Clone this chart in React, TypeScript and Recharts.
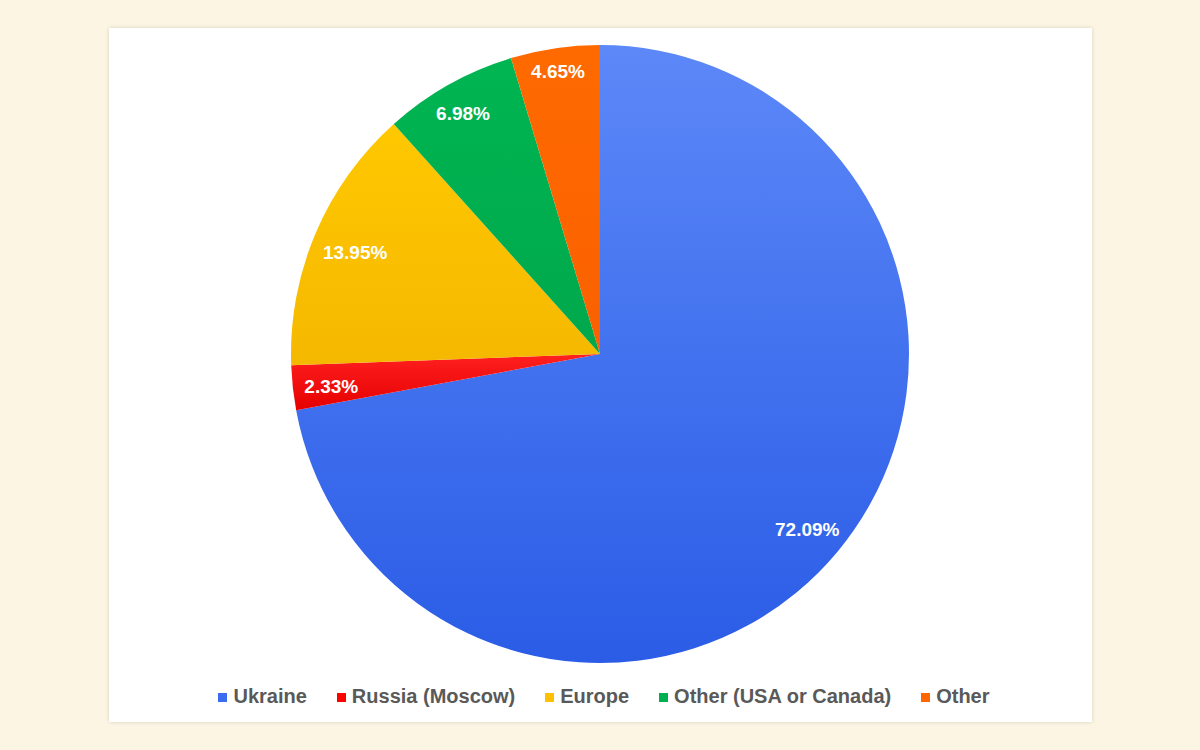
import { PieChart, Pie, Cell, Legend } from "recharts";

// Where respondents are based — share of answers, in percent.
const REGIONS = ["Ukraine", "Russia (Moscow)", "Europe", "Other (USA or Canada)", "Other"];
const SHARES = [72.09, 2.33, 13.95, 6.98, 4.65];
const COLORS = ["#3b6cf0", "#ff0000", "#ffc000", "#00b050", "#ff6600"];
// top / bottom stops of the soft vertical gradient on each slice
const TOP = ["#5c88f8", "#ff2020", "#ffc800", "#00b552", "#ff6a00"];
const BOTTOM = ["#2a5ce6", "#e60000", "#f5b800", "#00a84c", "#fa6000"];

const data = REGIONS.map((name, i) => ({ name, value: SHARES[i] }));

const W = 983;
const H = 694;
const CX = 491;
const CY = 326;
const R = 309;
const RAD = Math.PI / 180;

// "inside end" labels: push the text box out until its far corner sits just inside the rim
function renderLabel(props: any) {
  const { midAngle, value } = props;
  const text = `${value.toFixed(2)}%`;
  const w = text.length * 10.5;
  const dx = Math.cos(-midAngle * RAD);
  const dy = Math.sin(-midAngle * RAD);
  const r = R - 12 - (w / 2) * Math.abs(dx) - 5 * Math.abs(dy);
  return (
    <text
      x={CX + r * dx}
      y={CY + r * dy + 3}
      fill="#ffffff"
      fontSize={19}
      fontWeight="bold"
      textAnchor="middle"
      dominantBaseline="central"
    >
      {text}
    </text>
  );
}

// legend in series order (recharts would sort it by name)
function LegendRow() {
  return (
    <div style={{ display: "flex", justifyContent: "center", gap: 30, alignItems: "center", paddingLeft: 7 }}>
      {REGIONS.map((name, i) => (
        <div key={name} style={{ display: "flex", alignItems: "center", gap: 6 }}>
          <span style={{ width: 9, height: 9, background: COLORS[i], display: "inline-block", marginTop: 2 }} />
          <span style={{ color: "#595959", fontSize: 20, fontWeight: "bold" }}>{name}</span>
        </div>
      ))}
    </div>
  );
}

export default function App() {
  return (
    <div
      style={{
        position: "absolute",
        left: 0,
        top: 0,
        width: 1200,
        height: 750,
        background: "#fcf5e3",
        fontFamily: "'Liberation Sans', Arial, sans-serif",
      }}
    >
      <style>{`.recharts-pie-sectors { filter: drop-shadow(2px 3px 3px rgba(0,0,0,0.28)); }`}</style>
      <div
        style={{
          position: "absolute",
          left: 109,
          top: 28,
          width: W,
          height: H,
          background: "#ffffff",
          boxShadow: "0 0 4px rgba(0,0,0,0.15)",
        }}
      >
        <PieChart width={W} height={H} margin={{ top: 0, right: 0, bottom: 0, left: 0 }}>
          <defs>
            {COLORS.map((c, i) => (
              <linearGradient key={c} id={`g${i}`} x1="0" y1="0" x2="0" y2="1">
                <stop offset="0%" stopColor={TOP[i]} />
                <stop offset="100%" stopColor={BOTTOM[i]} />
              </linearGradient>
            ))}
          </defs>
          <Pie
            data={data}
            dataKey="value"
            nameKey="name"
            cx={CX}
            cy={CY}
            outerRadius={R}
            startAngle={90}
            endAngle={-270}
            stroke="none"
            label={renderLabel}
            labelLine={false}
            isAnimationActive={false}
          >
            {data.map((d, i) => (
              <Cell key={d.name} fill={`url(#g${i})`} />
            ))}
          </Pie>
          <Legend
            verticalAlign="bottom"
            align="center"
            content={<LegendRow />}
            wrapperStyle={{ bottom: 14 }}
          />
        </PieChart>
      </div>
    </div>
  );
}
